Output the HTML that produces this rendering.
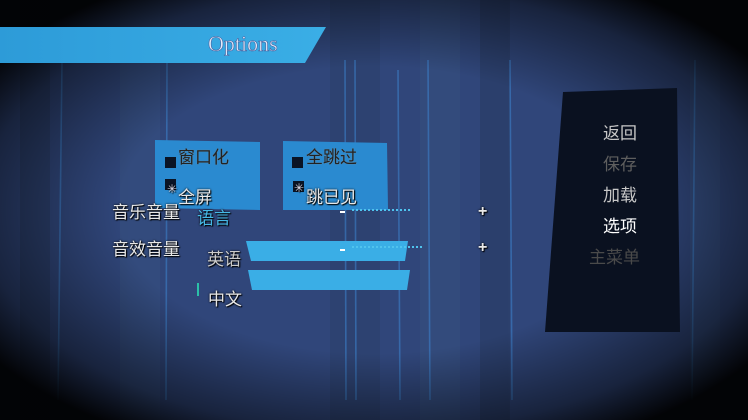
<!DOCTYPE html>
<html><head><meta charset="utf-8"><style>
html,body{margin:0;padding:0}
body{width:748px;height:420px;overflow:hidden;position:relative;background:#2c406a;font-family:"Liberation Sans","Noto Sans CJK SC",sans-serif}
.t{position:absolute;font-size:17px;color:#e8e8e8;text-shadow:0 0 2px #000,1px 1px 1px #000;white-space:nowrap;line-height:1}
.m{position:absolute;font-size:17px;white-space:nowrap;line-height:1}
</style></head><body>
<svg width="748" height="420" style="position:absolute;left:0;top:0">
<defs>
<radialGradient id="v" cx="50%" cy="50%" r="62%">
<stop offset="55%" stop-color="#000" stop-opacity="0"/>
<stop offset="85%" stop-color="#000" stop-opacity="0.5"/>
<stop offset="100%" stop-color="#000" stop-opacity="0.95"/>
</radialGradient>
<linearGradient id="b" x1="0" x2="1"><stop offset="0" stop-color="#2d9bd8"/><stop offset="1" stop-color="#3aaee6"/></linearGradient>
</defs>
<rect x="0" y="0" width="748" height="420" fill="#30467a"/>
<g opacity="0.5">
<rect x="20" y="0" width="30" height="420" fill="#27395f"/>
<rect x="120" y="0" width="40" height="420" fill="#36507f"/>
<rect x="330" y="0" width="50" height="420" fill="#2a3e68"/>
<rect x="420" y="0" width="40" height="420" fill="#36507f"/>
<rect x="480" y="0" width="30" height="420" fill="#28395f"/>
<rect x="690" y="0" width="30" height="420" fill="#36507f"/>
</g>
<g stroke="#3d84d0" stroke-width="1.6" opacity="0.55">
<line x1="62" y1="60" x2="58" y2="400"/>
<line x1="167" y1="60" x2="166" y2="400"/>
<line x1="345" y1="60" x2="346" y2="400"/>
<line x1="355" y1="60" x2="356" y2="400"/>
<line x1="398" y1="70" x2="400" y2="400"/>
<line x1="428" y1="60" x2="430" y2="400"/>
<line x1="510" y1="60" x2="512" y2="400"/>
<line x1="695" y1="60" x2="692" y2="400"/>
</g>
<rect x="0" y="0" width="748" height="420" fill="url(#v)"/>
<polygon points="0,27 326,27 305,63 0,63" fill="url(#b)"/>
<text x="208" y="51" font-family="Liberation Serif,serif" font-size="22" fill="#e4ecfa" stroke="#4a62a0" stroke-width="0.6">Options</text>
<polygon points="563,92 677,88 680,332 545,332" fill="#0a1120"/>
<polygon points="155,140 260,142 260,210 155,208" fill="#2a8ad0"/>
<polygon points="283,141 387,143 388,210 283,210" fill="#2a8ad0"/>
<polygon points="246,241 408,241 405,261 251,261" fill="#3aaee6"/>
<polygon points="248,270 410,270 407,290 252,290" fill="#3aaee6"/>
<rect x="165" y="157" width="11" height="11" fill="#0a1425"/>
<rect x="165" y="179" width="11" height="11" fill="#0a1425"/>
<rect x="292" y="157" width="11" height="11" fill="#0a1425"/>
<rect x="293" y="181" width="11" height="11" fill="#0a1425"/>
<line x1="352" y1="210" x2="410" y2="210" stroke="#4fc3ee" stroke-width="2" stroke-dasharray="2,2"/>
<line x1="352" y1="247" x2="422" y2="247" stroke="#4fc3ee" stroke-width="2" stroke-dasharray="2,2"/>
<rect x="340" y="211" width="5" height="2" fill="#fff"/>
<rect x="340" y="249" width="5" height="2" fill="#fff"/>
<rect x="197" y="283" width="2" height="13" fill="#2bc0a8"/>
</svg>
<div class="t" style="left:167px;top:183px;font-size:12px;color:#dde">✳</div>
<div class="t" style="left:294px;top:182px;font-size:12px;color:#dde">✳</div>
<div class="t" style="left:178px;top:149px;color:#222;text-shadow:0 0 1px #888">窗口化</div>
<div class="t" style="left:178px;top:189px">全屏</div>
<div class="t" style="left:306px;top:149px;color:#222;text-shadow:0 0 1px #888">全跳过</div>
<div class="t" style="left:306px;top:189px">跳已见</div>
<div class="t" style="left:112px;top:204px">音乐音量</div>
<div class="t" style="left:112px;top:241px">音效音量</div>
<div class="t" style="left:197px;top:210px;color:#46b8e6">语言</div>
<div class="t" style="left:207px;top:251px;color:#ccc">英语</div>
<div class="t" style="left:208px;top:291px">中文</div>
<div class="t" style="left:478px;top:204px;font-size:16px;font-weight:bold">+</div>
<div class="t" style="left:478px;top:240px;font-size:16px;font-weight:bold">+</div>
<div class="m" style="left:603px;top:125px;color:#c8c8c8">返回</div>
<div class="m" style="left:603px;top:156px;color:#5e5e5e">保存</div>
<div class="m" style="left:603px;top:187px;color:#c8c8c8">加载</div>
<div class="m" style="left:603px;top:218px;color:#ffffff">选项</div>
<div class="m" style="left:589px;top:249px;color:#4a4a4a">主菜单</div>
</body></html>
